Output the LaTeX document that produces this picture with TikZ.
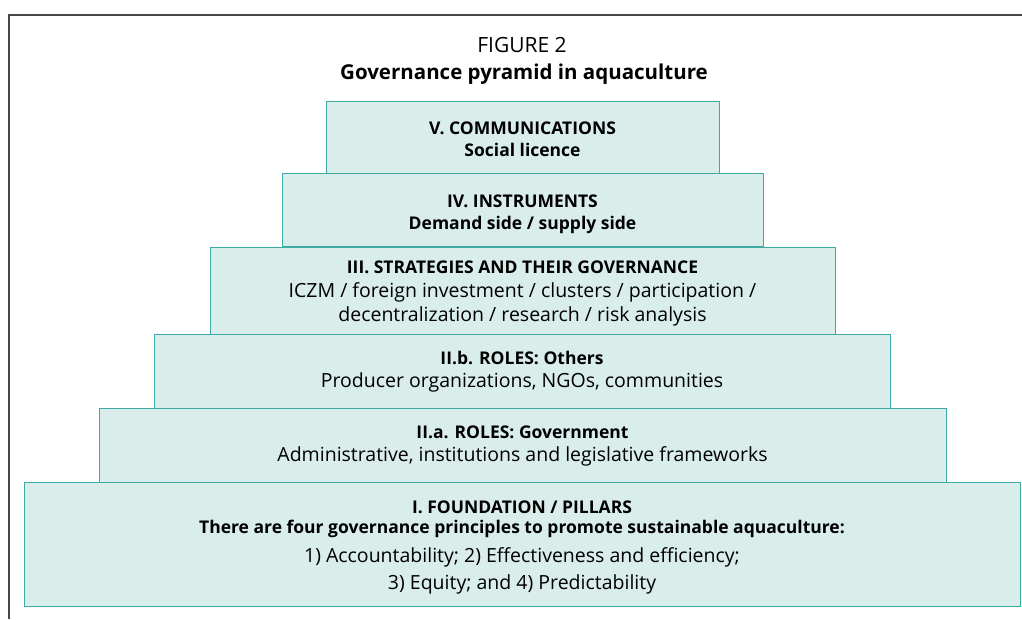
\documentclass[tikz,border=0pt]{standalone}
\usepackage{fontspec}
\setmainfont{Open Sans}
\definecolor{tealB}{HTML}{3FA9A5}
\definecolor{tealF}{HTML}{D9EDEB}
\definecolor{frameC}{HTML}{474747}
\newcommand{\hd}[1]{{\bfseries\fontsize{17.5}{23}\selectfont #1}}
\newcommand{\lift}[1]{\rule{0pt}{#1}}
\begin{document}
\begin{tikzpicture}[x=1pt,y=-1pt,
  tier/.style={draw=tealB, fill=tealF, line width=1pt, inner sep=0pt,
    align=center, text=black, font=\fontsize{19.5}{23}\selectfont},
  ttl/.style={inner sep=0pt, text=black, anchor=base},
  framestyle/.style={draw=frameC, line width=1.8pt}
]
\useasboundingbox (0,0) rectangle (1022,619);
\coordinate (ftop) at (1022,15);
\coordinate (fcorner) at (9,15);
\coordinate (fbot) at (9,619);
\draw[framestyle] (ftop) -- (fcorner) -- (fbot);

\node[ttl, font=\fontsize{21}{24}\selectfont] (fig) at (522,52) {FIGURE 2};
\node[ttl, font=\bfseries\fontsize{20.5}{24}\selectfont] (title) at (524,79) {Governance pyramid in aquaculture};

\node[tier, minimum width=996pt, minimum height=124pt] (t1) at (522,544)
  {\lift{19pt}\hd{I. FOUNDATION / PILLARS}\\[-3pt]
   \hd{There are four governance principles to promote sustainable aquaculture:}\\[6pt]
   1) Accountability; 2) Effectiveness and efficiency;\\[4pt]
   3) Equity; and 4) Predictability};
\node[tier, minimum width=847pt, minimum height=74pt] (t2a) at (522.5,445)
  {\lift{15pt}\hd{II.a. ROLES: Government}\\Administrative, institutions and legislative frameworks};
\node[tier, minimum width=736pt, minimum height=74pt] (t2b) at (522,371)
  {\lift{15pt}\hd{II.b. ROLES: Others}\\Producer organizations, NGOs, communities};
\node[tier, minimum width=625pt, minimum height=87pt] (t3) at (522.5,290.5)
  {\lift{18pt}\hd{III. STRATEGIES AND THEIR GOVERNANCE}\\[1pt]ICZM / foreign investment / clusters / participation /\\[1pt]decentralization / research / risk analysis};
\node[tier, minimum width=481pt, minimum height=73pt] (t4) at (522.5,210)
  {\lift{22pt}\hd{IV. INSTRUMENTS}\\[-1pt]\hd{Demand side / supply side}};
\node[tier, minimum width=393pt, minimum height=72pt] (t5) at (522.5,137)
  {\lift{17pt}\hd{V. COMMUNICATIONS}\\[-1pt]\hd{Social licence}};
\end{tikzpicture}
\end{document}
